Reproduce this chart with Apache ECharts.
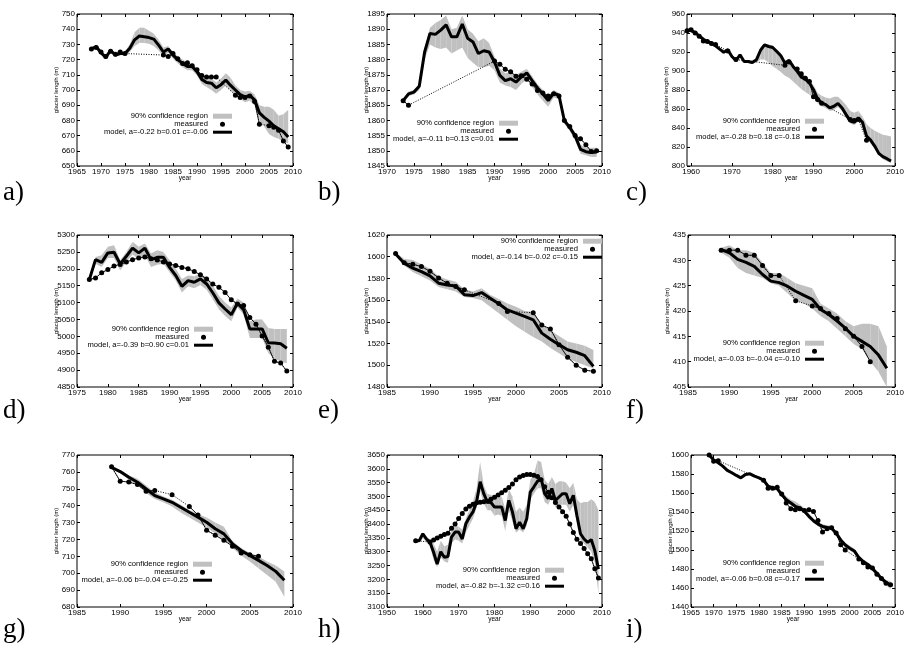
<!DOCTYPE html>
<html>
<head>
<meta charset="utf-8">
<script src="https://cdn.jsdelivr.net/npm/echarts@6/dist/echarts.min.js"></script>
<style>
html, body {margin: 0; padding: 0; background: #fff;}
#main {width: 907px; height: 649px;}
</style>
</head>
<body>
<div id="main"></div>
<script>
// ---- a) ----
var aStart = 1968;
var aModel = [727, 728.5, 724.5, 721.5, 726, 723, 724, 724, 727.5, 733, 735.5, 735, 734.5, 733.5, 729.5, 725, 727, 723, 720, 717.5, 715.5, 715.5, 712, 707, 705, 704.5, 701.5, 703.5, 706.5, 703, 700, 697, 695.5, 696.5, 693.5, 685, 682, 679.5, 676.5, 674.5, 672.5, 669];
var aHi = [728, 729.5, 726, 723, 727, 724.5, 725.5, 725.5, 730, 738, 741, 741, 739, 737, 733, 728, 729, 725, 722, 720, 718, 717.5, 714, 710, 708, 707.5, 705, 707.5, 711, 708, 703, 700, 699, 699.5, 697, 690, 689, 689, 687, 683, 684, 687];
var aLo = [726, 727.5, 723, 720, 724.5, 722, 723, 722.5, 725, 729, 731, 731, 730.5, 729, 726, 722, 724.5, 720.5, 717.5, 715, 713, 713, 709.5, 704, 702, 700, 697.5, 700, 703, 699.5, 697, 694, 692, 693, 690, 680, 676, 671, 669, 668, 666, 665];
var aMeasYears = [1968, 1969, 1970, 1971, 1972, 1973, 1974, 1975, 1983, 1984, 1985, 1986, 1987, 1988, 1989, 1990, 1991, 1992, 1993, 1994, 1998, 1999, 2000, 2001, 2002, 2003, 2005, 2006, 2007, 2008, 2009];
var aMeas = [727, 728, 725, 722, 725.5, 723.5, 725, 724, 723, 722, 724, 720.5, 717.5, 718, 716, 713.3, 709.5, 708.5, 708.5, 708.5, 696.5, 695, 695, 696, 692.5, 677.5, 676.5, 675.5, 673.5, 666.5, 662.5];
var aXTicks = [1965, 1970, 1975, 1980, 1985, 1990, 1995, 2000, 2005, 2010];
var aYTicks = [650, 660, 670, 680, 690, 700, 710, 720, 730, 740, 750];
var aLabel = 'model, a=-0.22 b=0.01 c=-0.06';

// ---- b) ----
var bStart = 1973;
var bModel = [1866.5, 1868.7, 1869.3, 1871.2, 1882.5, 1888.6, 1888.3, 1889.7, 1891.4, 1887.5, 1887.5, 1891.7, 1887, 1885.8, 1882, 1882.9, 1882.5, 1879.2, 1874.8, 1873.1, 1873.7, 1872.6, 1874.3, 1875.6, 1873.1, 1870.7, 1868.7, 1866.5, 1869, 1868.2, 1859.9, 1857.7, 1854.9, 1850.5, 1849.7, 1849.4, 1849.6];
var bHi = [1867, 1869.5, 1870, 1872, 1884, 1890.5, 1892, 1893, 1894.5, 1890, 1890.5, 1894.5, 1890, 1888.5, 1886, 1887, 1885.5, 1881, 1877, 1875.5, 1876, 1875, 1876, 1877, 1874.5, 1872, 1870, 1868, 1870, 1869, 1861, 1858.5, 1856, 1852, 1851, 1851, 1851];
var bLo = [1866, 1868, 1868.5, 1870, 1880, 1885, 1884, 1883.5, 1884, 1882, 1883, 1884, 1880.5, 1879, 1877.5, 1877.5, 1878, 1876.5, 1872.5, 1871.5, 1871, 1870, 1872, 1873.5, 1871, 1868.5, 1866.5, 1864.5, 1867.5, 1867, 1859, 1856.5, 1853.5, 1849, 1848.5, 1848, 1848];
var bMeasYears = [1973, 1974, 1990, 1991, 1992, 1993, 1994, 1995, 1996, 1997, 1998, 1999, 2000, 2001, 2002, 2003, 2004, 2005, 2006, 2007, 2008, 2009];
var bMeas = [1866.5, 1865, 1879.5, 1878.5, 1876.8, 1876, 1874.5, 1874.7, 1873.5, 1872, 1869.8, 1869, 1868, 1868.8, 1868, 1860, 1858, 1855, 1854, 1852, 1849.8, 1850];
var bXTicks = [1970, 1975, 1980, 1985, 1990, 1995, 2000, 2005, 2010];
var bYTicks = [1845, 1850, 1855, 1860, 1865, 1870, 1875, 1880, 1885, 1890, 1895];
var bLabel = 'model, a=-0.11 b=0.13 c=0.01';

// ---- c) ----
var cStart = 1959;
var cModel = [943.2, 942.5, 940.4, 937, 933.5, 931, 929.3, 926.5, 923, 919.8, 922.3, 915.3, 911.1, 917, 910, 910, 909, 911.8, 921.6, 927.5, 925.8, 924.7, 920.5, 916, 908.3, 911.1, 904.8, 899.6, 893.6, 891.5, 887.3, 880.3, 870.6, 866.4, 864.6, 861.1, 862.9, 865.7, 861.1, 854.1, 847.2, 846.1, 850.7, 846.1, 831.4, 827.3, 821, 813.3, 809.8, 807.7, 805.2];
var cHi = [944.5, 944, 942, 938.5, 935, 932.5, 931, 928, 924.5, 921.5, 924, 917, 913, 918.5, 911.5, 911.5, 910.5, 913, 925, 929, 928, 927, 923, 919, 911, 913, 907, 902, 897, 895, 891, 885, 877, 874, 872, 871, 873, 873, 869, 864, 858, 856, 858, 852, 844, 840, 837, 835, 833, 832, 831];
var cLo = [942, 941, 939, 935.5, 932, 929.5, 927.5, 925, 921.5, 918, 920.5, 913.5, 909.5, 915.5, 908.5, 908.5, 907.5, 909, 912, 912, 909, 905, 902, 899, 895, 893, 889, 885, 881, 878, 875, 872, 866, 863, 861, 858, 859, 862, 858, 851, 845, 843, 847, 843, 829, 824, 818, 811, 807, 805, 803];
var cMeasYears = [1959, 1960, 1961, 1962, 1963, 1964, 1965, 1966, 1969, 1971, 1983, 1984, 1986, 1987, 1988, 1989, 1990, 1991, 1992, 1999, 2000, 2001, 2003];
var cMeas = [942.5, 943.5, 940, 936.5, 931.5, 931, 929, 928, 921, 912, 906, 909.5, 902, 897, 892.5, 889, 873, 870, 866, 849, 848, 849, 827];
var cXTicks = [1960, 1970, 1980, 1990, 2000, 2010];
var cYTicks = [800, 820, 840, 860, 880, 900, 920, 940, 960];
var cLabel = 'model, a=-0.28 b=0.18 c=-0.18';

// ---- d) ----
var dStart = 1977;
var dModel = [5168, 5227, 5219, 5247, 5249, 5214, 5237, 5261, 5247, 5261, 5227, 5234, 5234, 5204, 5180, 5148, 5165, 5160, 5170, 5155, 5129, 5099, 5081, 5064, 5098, 5079, 5022, 5022, 5022, 4981, 4980, 4978, 4965];
var dHi = [5170, 5235, 5240, 5265, 5270, 5225, 5250, 5280, 5265, 5275, 5245, 5255, 5250, 5225, 5200, 5170, 5180, 5178, 5185, 5175, 5150, 5120, 5100, 5085, 5112, 5100, 5045, 5050, 5050, 5025, 5022, 5022, 5022];
var dLo = [5165, 5215, 5205, 5232, 5232, 5195, 5220, 5242, 5228, 5240, 5205, 5212, 5215, 5190, 5165, 5130, 5148, 5142, 5152, 5138, 5110, 5080, 5060, 5045, 5085, 5065, 4995, 4995, 4995, 4950, 4935, 4925, 4920];
var dMeasYears = [1977, 1978, 1979, 1980, 1981, 1982, 1983, 1984, 1985, 1986, 1987, 1988, 1989, 1990, 1991, 1992, 1993, 1994, 1995, 1996, 1997, 1998, 1999, 2000, 2001, 2002, 2003, 2004, 2005, 2006, 2007, 2008, 2009];
var dMeas = [5168, 5173, 5188, 5198, 5208, 5213, 5220, 5227, 5232, 5235, 5230, 5226, 5220, 5214, 5210, 5204, 5200, 5192, 5182, 5170, 5155, 5145, 5130, 5108, 5096, 5091, 5056, 5036, 5001, 4968, 4926, 4921, 4897];
var dXTicks = [1975, 1980, 1985, 1990, 1995, 2000, 2005, 2010];
var dYTicks = [4850, 4900, 4950, 5000, 5050, 5100, 5150, 5200, 5250, 5300];
var dLabel = 'model, a=-0.39 b=0.90 c=0.01';

// ---- e) ----
var eStart = 1986;
var eModel = [1602.5, 1594, 1589.4, 1586.3, 1582.3, 1575.6, 1574, 1573, 1565, 1564.2, 1567, 1561.8, 1556.6, 1551, 1548, 1545, 1541.9, 1529.6, 1524, 1519, 1514.3, 1512, 1508.8, 1499];
var eHi = [1604, 1598, 1597, 1593, 1589, 1582, 1579, 1577, 1570, 1568, 1571, 1565, 1561, 1557, 1554, 1550, 1549, 1538, 1532, 1527, 1522, 1520, 1518, 1514];
var eLo = [1602, 1592, 1586, 1582, 1578, 1572, 1570, 1568, 1563, 1562, 1560, 1554, 1548, 1542, 1536, 1531, 1526, 1522, 1516, 1511, 1506, 1503, 1500, 1497];
var eMeasYears = [1986, 1987, 1988, 1989, 1990, 1991, 1992, 1993, 1994, 1998, 1999, 2002, 2003, 2004, 2005, 2006, 2007, 2008, 2009];
var eMeas = [1603, 1594.5, 1593, 1591, 1586.5, 1580.5, 1575.5, 1572.5, 1569.5, 1557, 1549.5, 1548.5, 1537, 1533.5, 1519, 1507.5, 1500, 1495.5, 1494.5];
var eXTicks = [1985, 1990, 1995, 2000, 2005, 2010];
var eYTicks = [1480, 1500, 1520, 1540, 1560, 1580, 1600, 1620];
var eLabel = 'model, a=-0.14 b=-0.02 c=-0.15';

// ---- f) ----
var fStart = 1989;
var fModel = [432.1, 431.5, 430.2, 429.6, 428.8, 427.2, 425.9, 425.6, 424.9, 423.9, 423.1, 422.3, 420.3, 419.3, 418, 416.6, 415, 414, 413, 411.3, 408.7];
var fHi = [432.5, 433, 432, 432, 431.5, 429.5, 427.5, 427.5, 426.5, 425.5, 425, 424.5, 421.5, 420.5, 419.5, 418, 417, 417.5, 417.5, 417, 413];
var fLo = [431.5, 430.5, 428.5, 427.5, 427, 426.5, 425.5, 425, 423.5, 422, 421.5, 420.5, 419, 418, 416.5, 415, 413.5, 412.5, 410, 408, 405];
var fMeasYears = [1989, 1990, 1991, 1992, 1993, 1994, 1995, 1996, 1998, 2000, 2001, 2002, 2003, 2004, 2005, 2006, 2007];
var fMeas = [432, 432, 432, 431, 431, 429, 427, 427, 422, 421, 420.5, 419.5, 418.5, 416.5, 415, 413, 410];
var fXTicks = [1985, 1990, 1995, 2000, 2005, 2010];
var fYTicks = [405, 410, 415, 420, 425, 430, 435];
var fLabel = 'model, a=-0.03 b=-0.04 c=-0.10';

// ---- g) ----
var gStart = 1989;
var gModel = [762.7, 760.2, 756.8, 753.9, 749.9, 746, 744, 742, 739.1, 736.1, 733.2, 730.2, 726.3, 723.3, 717.4, 713.5, 710.5, 707.6, 704.6, 701.1, 695.8];
var gHi = [763, 761, 758, 756, 752, 748, 745.5, 743.5, 740.5, 737.5, 735, 733, 730, 727.5, 719, 715, 712, 710, 707, 704.5, 701];
var gLo = [762, 759, 755.5, 752, 747.5, 744, 742, 739.5, 736, 733, 730, 727, 723.5, 720, 715, 710.5, 707, 703, 699, 695, 686];
var gMeasYears = [1989, 1990, 1991, 1992, 1993, 1994, 1996, 1998, 1999, 2000, 2001, 2002, 2003, 2004, 2005, 2006];
var gMeas = [763, 754.5, 754, 752.5, 748.5, 749, 746.5, 739.5, 734.5, 725.5, 722.5, 719.5, 716, 712, 711, 710];
var gXTicks = [1985, 1990, 1995, 2000, 2005, 2010];
var gYTicks = [680, 690, 700, 710, 720, 730, 740, 750, 760, 770];
var gLabel = 'model, a=-0.06 b=-0.04 c=-0.25';

// ---- h) ----
var hStart = 1958;
var hModel = [3340, 3340, 3365, 3346, 3334, 3298, 3255, 3300, 3280, 3283, 3353, 3371, 3371, 3346, 3401, 3425, 3444, 3480, 3553, 3510, 3480, 3478, 3462, 3462, 3462, 3413, 3486, 3444, 3383, 3407, 3383, 3419, 3516, 3535, 3555, 3565, 3510, 3492, 3529, 3486, 3498, 3510, 3510, 3474, 3504, 3431, 3365, 3346, 3334, 3344, 3304, 3237];
var hHi = [3342, 3345, 3370, 3355, 3345, 3330, 3300, 3340, 3320, 3325, 3380, 3395, 3390, 3380, 3420, 3450, 3480, 3530, 3625, 3540, 3510, 3505, 3500, 3495, 3500, 3455, 3525, 3500, 3445, 3460, 3445, 3470, 3560, 3580, 3630, 3625, 3560, 3545, 3570, 3545, 3555, 3555, 3550, 3530, 3550, 3490, 3475, 3480, 3480, 3490, 3480, 3450];
var hLo = [3338, 3335, 3350, 3335, 3320, 3270, 3245, 3280, 3265, 3260, 3330, 3345, 3340, 3330, 3370, 3395, 3420, 3460, 3520, 3475, 3450, 3450, 3430, 3435, 3430, 3375, 3450, 3410, 3370, 3380, 3370, 3395, 3490, 3510, 3530, 3530, 3480, 3470, 3500, 3460, 3470, 3470, 3470, 3445, 3470, 3400, 3340, 3330, 3315, 3300, 3260, 3150];
var hMeasYears = [1958, 1962, 1963, 1964, 1965, 1966, 1967, 1968, 1969, 1970, 1971, 1972, 1973, 1974, 1975, 1976, 1977, 1978, 1979, 1980, 1981, 1982, 1983, 1984, 1985, 1986, 1987, 1988, 1989, 1990, 1991, 1992, 1993, 1994, 1995, 1996, 1997, 1998, 1999, 2000, 2001, 2002, 2003, 2004, 2005, 2006, 2007, 2008, 2009];
var hMeas = [3340, 3335, 3342, 3350, 3356, 3362, 3367, 3385, 3400, 3420, 3438, 3455, 3465, 3472, 3477, 3479, 3481, 3483, 3490, 3497, 3505, 3513, 3522, 3532, 3545, 3560, 3570, 3576, 3579, 3579, 3577, 3572, 3560, 3535, 3515, 3495, 3478, 3462, 3445, 3428, 3400, 3370, 3345, 3330, 3312, 3293, 3275, 3238, 3205];
var hXTicks = [1950, 1960, 1970, 1980, 1990, 2000, 2010];
var hYTicks = [3100, 3150, 3200, 3250, 3300, 3350, 3400, 3450, 3500, 3550, 3600, 3650];
var hLabel = 'model, a=-0.82 b=-1.32 c=0.16';

// ---- i) ----
var iStart = 1969;
var iModel = [1600, 1594.7, 1591.9, 1588.3, 1583.8, 1581.3, 1578.5, 1576, 1579.5, 1580.2, 1577.7, 1576, 1573.5, 1567.1, 1565.4, 1564.7, 1558.3, 1553, 1549.5, 1546, 1544.2, 1540.7, 1535.4, 1530.8, 1527.2, 1524.8, 1523.7, 1523, 1517.7, 1510.6, 1505.3, 1501.8, 1499, 1491.9, 1487.7, 1484.8, 1480.6, 1475.3, 1470, 1465.8, 1463];
var iHi = [1601, 1596, 1593.5, 1590, 1585.5, 1583, 1580, 1577.5, 1581, 1581.5, 1579, 1577.5, 1575, 1569, 1567.5, 1567, 1561, 1556.5, 1553, 1551, 1548, 1544, 1538, 1533, 1529.5, 1527, 1526, 1525.5, 1520, 1513, 1508, 1504.5, 1501.5, 1494.5, 1490, 1487, 1483, 1478, 1472.5, 1468.5, 1467];
var iLo = [1599, 1593.5, 1590.5, 1586.5, 1582, 1579.5, 1577, 1574.5, 1578, 1579, 1576.5, 1574.5, 1572, 1565.5, 1563.5, 1562.5, 1556, 1550.5, 1547, 1544, 1542, 1538.5, 1533, 1528.5, 1525, 1522.5, 1521.5, 1521, 1515.5, 1508.5, 1503, 1499.5, 1496.5, 1489.5, 1485.5, 1482.5, 1478, 1472.5, 1467.5, 1463, 1459];
var iMeasYears = [1969, 1970, 1971, 1981, 1982, 1983, 1984, 1985, 1986, 1987, 1988, 1989, 1990, 1991, 1992, 1993, 1994, 1995, 1996, 1997, 1998, 1999, 2002, 2003, 2004, 2005, 2006, 2007, 2008, 2009];
var iMeas = [1600, 1593.5, 1594, 1573.5, 1565, 1565, 1566, 1559, 1549.5, 1543.5, 1542.5, 1543.5, 1541.5, 1542.5, 1540.5, 1531, 1519, 1522.5, 1523.5, 1518, 1505.5, 1500, 1490.5, 1486.5, 1482, 1481, 1474.5, 1470, 1465, 1463.5];
var iXTicks = [1965, 1970, 1975, 1980, 1985, 1990, 1995, 2000, 2005, 2010];
var iYTicks = [1440, 1460, 1480, 1500, 1520, 1540, 1560, 1580, 1600];
var iLabel = 'model, a=-0.06 b=0.08 c=-0.17';

var bandName = '90% confidence region';
var measName = 'measured';

// layout: plot box [left, top, right, bottom], key anchor [icon right, first row y], tag [x, y]
var boxes = [
    [77, 14, 293, 166], [387, 14, 602, 166], [687, 14, 905, 166],
    [77, 235, 293, 387], [387, 235, 602, 387], [688, 235, 905, 387],
    [77, 455, 293, 607], [387, 455, 602, 607], [691, 455, 905, 607]
];
var keys = [
    [232, 116], [518, 123], [824, 121],
    [213, 329], [602, 241], [824, 343],
    [212, 564], [564, 570], [824, 563]
];
var tags = [
    [3, 193], [318, 193], [626, 193],
    [3, 411], [318, 411], [626, 411],
    [3, 630], [318, 630], [626, 630]
];

var panels = [
    {tag: 'a)', x: [1965, 2010], y: [650, 750], xt: aXTicks, yt: aYTicks, start: aStart, model: aModel, hi: aHi, lo: aLo, my: aMeasYears, m: aMeas, label: aLabel},
    {tag: 'b)', x: [1970, 2010], y: [1845, 1895], xt: bXTicks, yt: bYTicks, start: bStart, model: bModel, hi: bHi, lo: bLo, my: bMeasYears, m: bMeas, label: bLabel},
    {tag: 'c)', x: [1959, 2010], y: [800, 960], xt: cXTicks, yt: cYTicks, start: cStart, model: cModel, hi: cHi, lo: cLo, my: cMeasYears, m: cMeas, label: cLabel},
    {tag: 'd)', x: [1975, 2010], y: [4850, 5300], xt: dXTicks, yt: dYTicks, start: dStart, model: dModel, hi: dHi, lo: dLo, my: dMeasYears, m: dMeas, label: dLabel},
    {tag: 'e)', x: [1985, 2010], y: [1480, 1620], xt: eXTicks, yt: eYTicks, start: eStart, model: eModel, hi: eHi, lo: eLo, my: eMeasYears, m: eMeas, label: eLabel},
    {tag: 'f)', x: [1985, 2010], y: [405, 435], xt: fXTicks, yt: fYTicks, start: fStart, model: fModel, hi: fHi, lo: fLo, my: fMeasYears, m: fMeas, label: fLabel},
    {tag: 'g)', x: [1985, 2010], y: [680, 770], xt: gXTicks, yt: gYTicks, start: gStart, model: gModel, hi: gHi, lo: gLo, my: gMeasYears, m: gMeas, label: gLabel},
    {tag: 'h)', x: [1950, 2010], y: [3100, 3650], xt: hXTicks, yt: hYTicks, start: hStart, model: hModel, hi: hHi, lo: hLo, my: hMeasYears, m: hMeas, label: hLabel},
    {tag: 'i)', x: [1965, 2010], y: [1440, 1600], xt: iXTicks, yt: iYTicks, start: iStart, model: iModel, hi: iHi, lo: iLo, my: iMeasYears, m: iMeas, label: iLabel}
];

var W = 907;
var FONT = '"Liberation Sans", Arial, sans-serif';
var chart = echarts.init(document.getElementById('main'), null, {renderer: 'canvas'});

var grids = [], xAxes = [], yAxes = [], series = [], legends = [], graphics = [];

function plain(v) { return String(v); }

function tickAxis(gi, pos, range, ticks, withLabels) {
    return {
        gridIndex: gi, type: 'value', position: pos, min: range[0], max: range[1],
        axisLine: {show: false},
        splitLine: {show: false},
        axisTick: {show: true, inside: true, length: 3, customValues: ticks, lineStyle: {color: '#000', width: 1}},
        axisLabel: {show: withLabels, customValues: ticks, formatter: plain, color: '#000',
            fontSize: 8, fontFamily: FONT, margin: 2}
    };
}

// one quad of the confidence band between two neighbouring years
function renderBand(params, api) {
    var p0 = api.coord([api.value(0), api.value(1)]);
    var p1 = api.coord([api.value(3), api.value(4)]);
    var p2 = api.coord([api.value(3), api.value(5)]);
    var p3 = api.coord([api.value(0), api.value(2)]);
    return {
        type: 'polygon',
        shape: {points: [p0, p1, p2, p3]},
        style: {fill: '#c0c0c0'}
    };
}

panels.forEach(function (p, i) {
    var b = boxes[i];
    grids.push({left: b[0], top: b[1], width: b[2] - b[0], height: b[3] - b[1],
        show: true, borderColor: '#000', borderWidth: 1, backgroundColor: 'transparent'});

    var xb = tickAxis(i, 'bottom', p.x, p.xt, true);
    xb.name = 'year';
    xb.nameLocation = 'middle';
    xb.nameGap = 9;
    xb.nameMoveOverlap = false;
    xb.nameTextStyle = {fontSize: 6.5, fontFamily: FONT, color: '#000'};
    xAxes.push(xb);
    xAxes.push(tickAxis(i, 'top', p.x, p.xt, false));

    var yl = tickAxis(i, 'left', p.y, p.yt, true);
    yl.name = 'glacier length (m)';
    yl.nameLocation = 'middle';
    yl.nameRotate = 90;
    yl.nameGap = 18;
    yl.nameMoveOverlap = false;
    yl.nameTextStyle = {fontSize: 6, fontFamily: FONT, color: '#000'};
    yAxes.push(yl);
    yAxes.push(tickAxis(i, 'right', p.y, p.yt, false));

    var years = p.model.map(function (v, k) { return p.start + k; });
    var xi = 2 * i;

    // confidence band as quads between consecutive years
    var quads = [];
    for (var k = 0; k + 1 < years.length; k++) {
        quads.push([years[k], p.lo[k], p.hi[k], years[k + 1], p.lo[k + 1], p.hi[k + 1]]);
    }
    series.push({
        type: 'custom', name: bandName, xAxisIndex: xi, yAxisIndex: xi,
        data: quads, renderItem: renderBand, clip: true, silent: true, z: 1,
        encode: {x: [0, 3], y: [1, 2, 4, 5]}
    });

    // measured: dotted line over all points, solid line over consecutive years
    series.push({
        type: 'line', name: measName, xAxisIndex: xi, yAxisIndex: xi,
        data: p.my.map(function (y, k) { return [y, p.m[k]]; }),
        symbol: 'circle', symbolSize: 5, itemStyle: {color: '#000', borderWidth: 0},
        lineStyle: {color: '#000', width: 1, type: [1, 1.5]}, silent: true, z: 2
    });
    var solid = [];
    p.my.forEach(function (y, k) {
        if (k > 0 && y - p.my[k - 1] > 1) solid.push([(y + p.my[k - 1]) / 2, '-']);
        solid.push([y, p.m[k]]);
    });
    series.push({
        type: 'line', name: '_ms' + i, xAxisIndex: xi, yAxisIndex: xi, data: solid,
        symbol: 'none', connectNulls: false, lineStyle: {color: '#000', width: 0.8}, silent: true, z: 2
    });

    series.push({
        type: 'line', name: p.label, xAxisIndex: xi, yAxisIndex: xi,
        data: years.map(function (y, k) { return [y, p.model[k]]; }),
        symbol: 'none', lineStyle: {color: '#000', width: 3}, silent: true, z: 3
    });

    var kp = keys[i];
    legends.push({
        show: true, orient: 'vertical', align: 'right', right: W - kp[0], top: kp[1] - 3.8,
        itemWidth: 19, itemHeight: 5, itemGap: 0, padding: 0, selectedMode: false,
        textStyle: {fontSize: 7.6, fontFamily: FONT, color: '#000', lineHeight: 7.6},
        data: [
            {name: bandName, icon: 'rect', itemStyle: {color: '#c0c0c0', borderWidth: 0}},
            {name: measName, icon: 'circle', itemStyle: {color: '#000', borderWidth: 0}},
            {name: p.label, icon: 'path://M0,0H19V3H0Z', itemStyle: {color: '#000', borderWidth: 0}}
        ]
    });

    graphics.push({
        type: 'text', x: tags[i][0], y: tags[i][1], silent: true,
        style: {text: p.tag, fill: '#000', font: '27px "Liberation Serif", serif', align: 'left', verticalAlign: 'middle'}
    });
});

chart.setOption({
    animation: false,
    backgroundColor: '#fff',
    grid: grids,
    xAxis: xAxes,
    yAxis: yAxes,
    legend: legends,
    series: series,
    graphic: graphics
});
</script>
</body>
</html>
